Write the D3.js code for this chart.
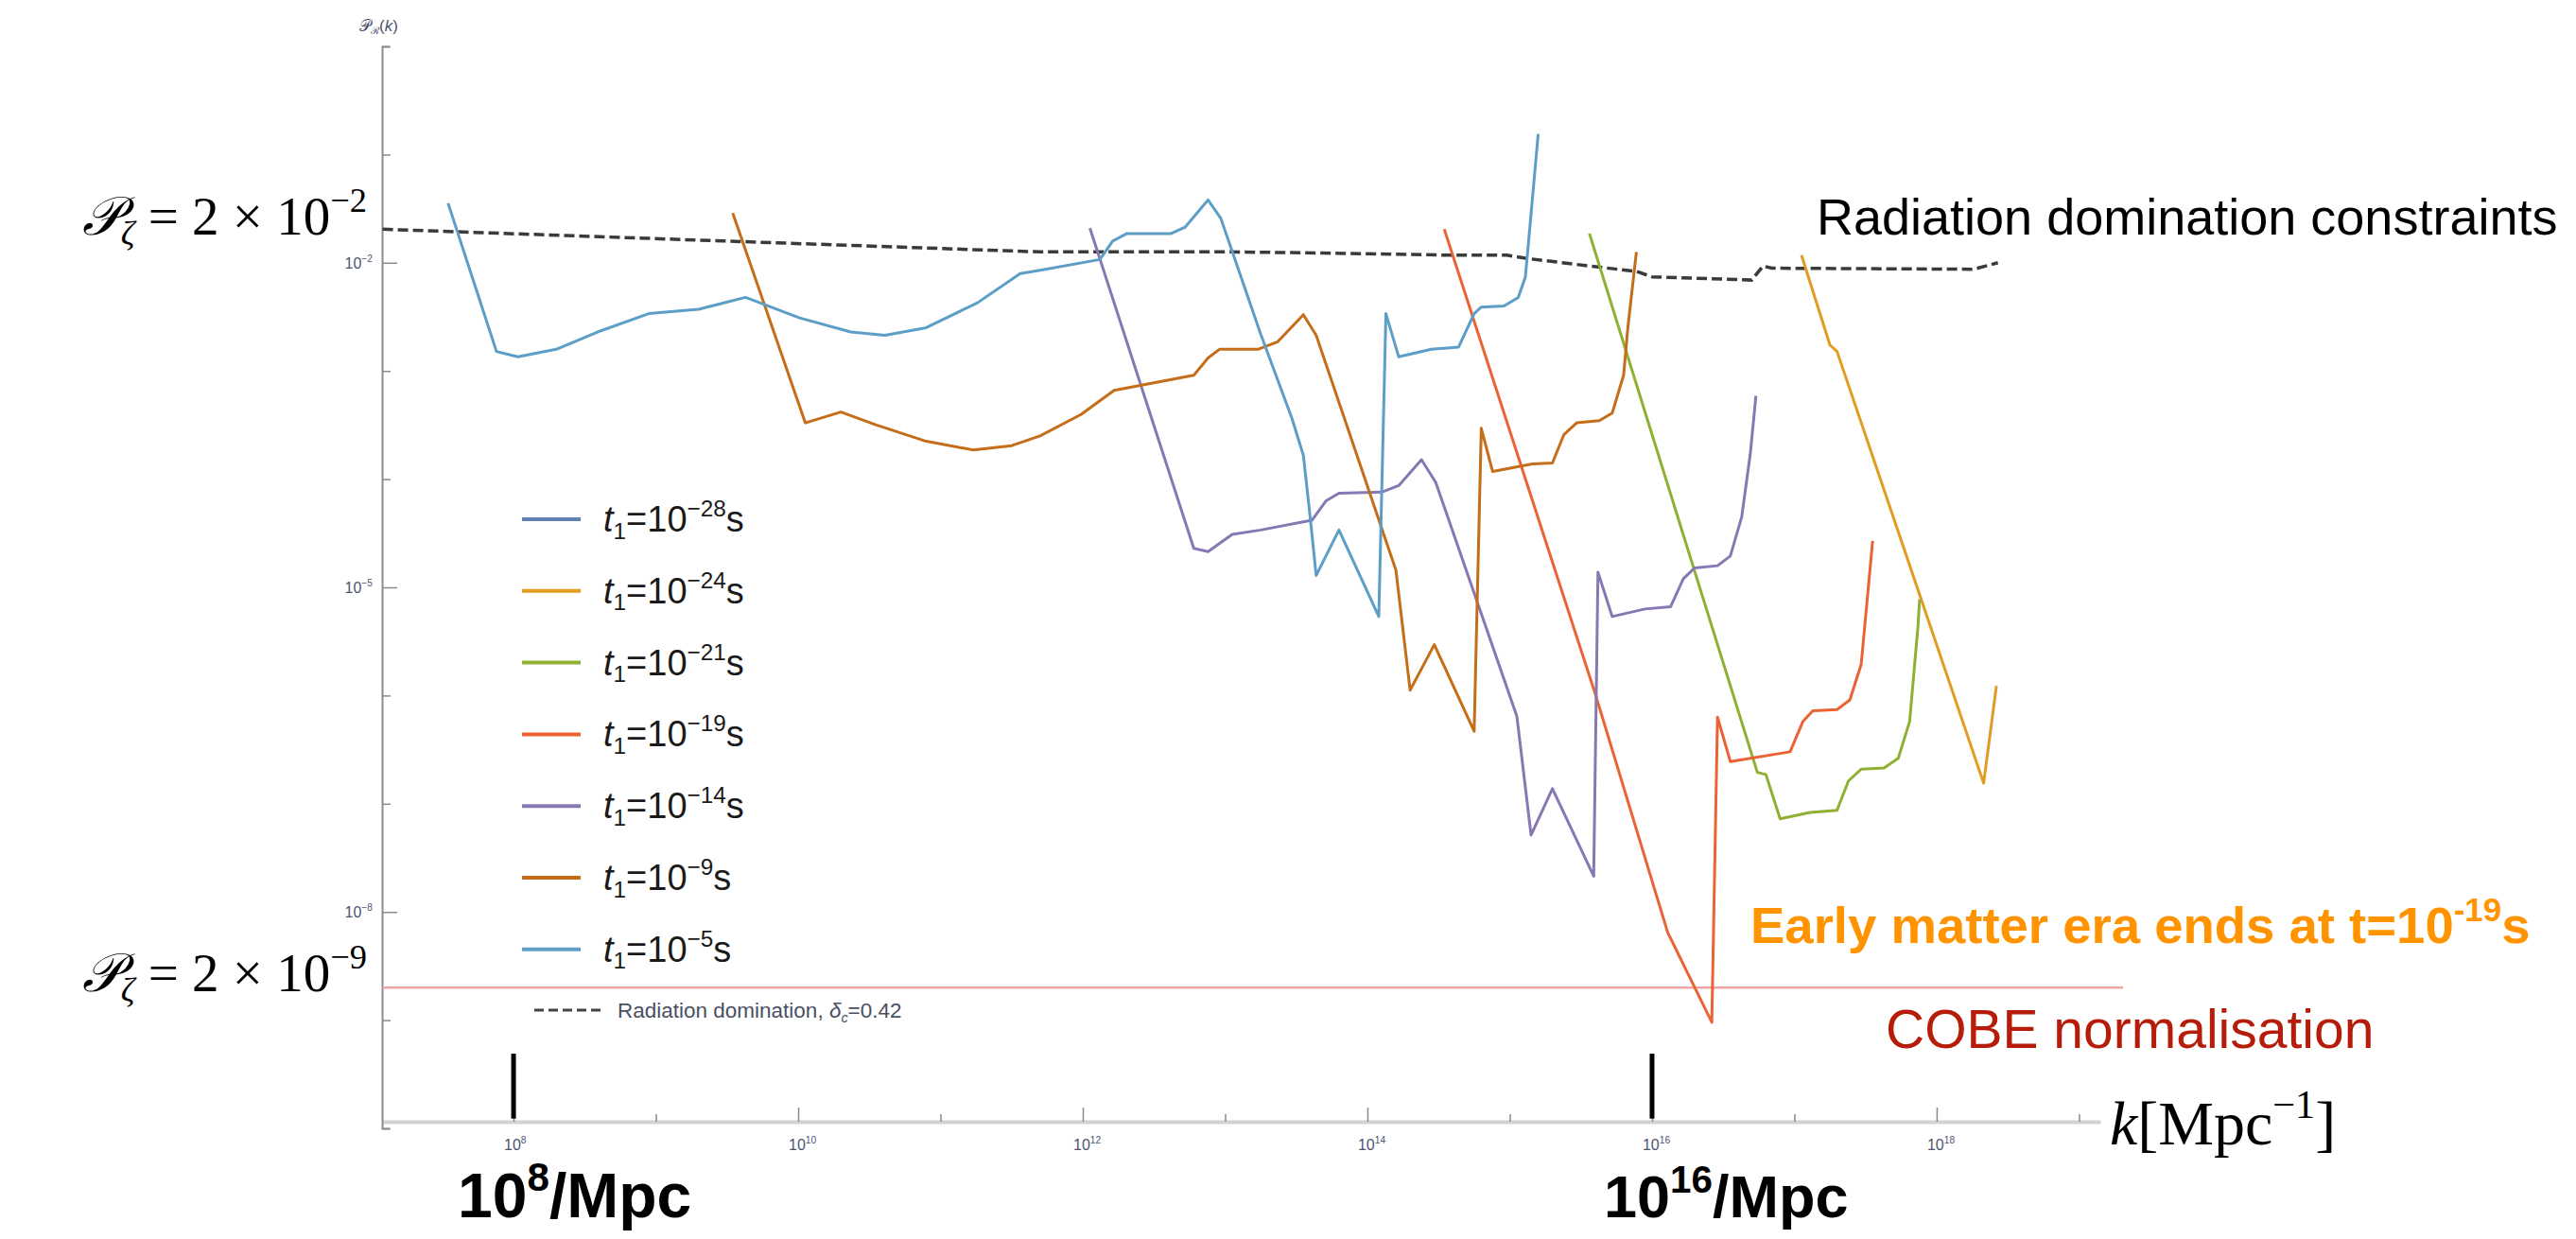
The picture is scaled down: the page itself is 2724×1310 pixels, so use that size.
<!DOCTYPE html>
<html>
<head>
<meta charset="utf-8">
<script src="https://cdn.jsdelivr.net/npm/d3@7"></script>
<style>
  body { margin: 0; background: #fff; }
  svg { display: block; font-family: "Liberation Sans", Arial, sans-serif; }
</style>
</head>
<body>
<svg id="chart"></svg>
<script>
// ---- data: every point is [log10 k, log10 P] ----
const seriesExp = ['−28', '−24', '−21', '−19', '−14', '−9', '−5'];
const seriesColors = ['#5E81B5', '#E19C24', '#8FB032', '#EB6235', '#8778B3', '#C56E1A', '#5D9EC7'];

const t1e28 = [];
const t1e24 = [[17.05,-1.93],[17.25,-2.76],[17.30,-2.82],[18.33,-6.81],[18.42,-5.91]];
const t1e21 = [[15.56,-1.73],[16.74,-6.71],[16.80,-6.73],[16.90,-7.14],[17.11,-7.08],[17.30,-7.06],
  [17.38,-6.79],[17.47,-6.68],[17.63,-6.67],[17.73,-6.58],[17.81,-6.24],[17.87,-5.34],[17.88,-5.11]];
const t1e19 = [[14.54,-1.69],[15.60,-5.98],[16.11,-8.19],[16.42,-9.02],[16.46,-6.20],[16.55,-6.61],
  [16.97,-6.52],[17.06,-6.24],[17.13,-6.14],[17.30,-6.13],[17.39,-6.04],[17.47,-5.71],[17.55,-4.57]];
const t1e14 = [[12.05,-1.68],[12.78,-4.64],[12.88,-4.67],[13.05,-4.51],[13.25,-4.47],[13.61,-4.38],
  [13.71,-4.20],[13.80,-4.13],[14.10,-4.12],[14.22,-4.06],[14.38,-3.82],[14.48,-4.03],[15.05,-6.19],
  [15.15,-7.29],[15.30,-6.86],[15.59,-7.67],[15.62,-4.86],[15.72,-5.27],[15.95,-5.20],[16.13,-5.18],
  [16.22,-4.92],[16.30,-4.82],[16.46,-4.80],[16.55,-4.71],[16.63,-4.35],[16.69,-3.77],[16.73,-3.23]];
const t1e9 = [[9.54,-1.54],[10.05,-3.48],[10.30,-3.38],[10.55,-3.50],[10.90,-3.65],[11.23,-3.73],
  [11.50,-3.69],[11.70,-3.60],[11.99,-3.40],[12.22,-3.18],[12.78,-3.04],[12.88,-2.88],[12.96,-2.80],
  [13.23,-2.80],[13.37,-2.73],[13.55,-2.48],[13.64,-2.67],[14.20,-4.84],[14.30,-5.95],[14.47,-5.53],
  [14.75,-6.33],[14.80,-3.53],[14.88,-3.93],[15.16,-3.86],[15.30,-3.85],[15.38,-3.59],[15.47,-3.48],
  [15.63,-3.46],[15.72,-3.39],[15.80,-3.04],[15.83,-2.60],[15.89,-1.90]];
const t1e5 = [[7.54,-1.45],[7.88,-2.82],[8.03,-2.87],[8.30,-2.80],[8.59,-2.64],[8.95,-2.47],[9.30,-2.43],
  [9.63,-2.32],[10.01,-2.51],[10.37,-2.64],[10.61,-2.67],[10.90,-2.60],[11.26,-2.37],[11.56,-2.10],
  [11.70,-2.07],[12.12,-1.97],[12.21,-1.80],[12.31,-1.73],[12.62,-1.73],[12.72,-1.67],[12.88,-1.42],
  [12.97,-1.59],[13.25,-2.66],[13.47,-3.44],[13.55,-3.78],[13.60,-4.38],[13.64,-4.89],[13.80,-4.47],
  [14.08,-5.27],[14.13,-2.47],[14.22,-2.87],[14.45,-2.80],[14.64,-2.78],[14.75,-2.47],[14.80,-2.41],
  [14.96,-2.40],[15.06,-2.32],[15.11,-2.13],[15.16,-1.40],[15.20,-0.81]];
const allSeries = [t1e28, t1e24, t1e21, t1e19, t1e14, t1e9, t1e5];

const radiationDomination = [[7.08,-1.69],[11.70,-1.90],[13.03,-1.90],[13.69,-1.91],[14.58,-1.93],
  [14.98,-1.93],[15.12,-1.96],[15.56,-2.03],[15.89,-2.08],[16.00,-2.13],[16.70,-2.16],[16.78,-2.03],
  [16.84,-2.05],[18.26,-2.06],[18.43,-2.00]];

const cobeLevel = 2e-9;
const cobeSpan = [7.08, 19.31];
const markerK = [1e8, 1e16];

const xMajorExp = [8, 10, 12, 14, 16, 18];
const xMinorExp = [9, 11, 13, 15, 17, 19];
const yMajorExp = [-2, -5, -8];
const yMinorExp = [0, -1, -3, -4, -6, -7, -9, -10];

// ---- layout ----
const W = 2724, H = 1310;
const svg = d3.select('#chart').attr('width', W).attr('height', H);

const x = d3.scaleLog().domain([10 ** 7.076, 10 ** 19.15]).range([404, 2221]);
const y = d3.scaleLog().domain([1e-10, 1]).range([1193, 49]);
const xAxisY = 1186;

const tickColor = '#8a8a8a';
const tickLabelColor = '#4e5470';

// text with sub/superscripts
function richText(parent, px, py, parts, size) {
  const t = parent.append('text').attr('x', px).attr('y', py).style('font-size', size + 'px');
  let shift = 0;
  parts.forEach(p => {
    const fs = (p.sup || p.sub) ? size * 0.64 : size;
    const target = p.sup ? -size * 0.42 : p.sub ? size * 0.2 : 0;
    t.append('tspan')
      .attr('dy', target - shift)
      .style('font-size', fs + 'px')
      .style('font-style', p.italic ? 'italic' : null)
      .text(p.t);
    shift = target;
  });
  return t;
}

// ---- axes ----
const xMajor = d3.axisBottom(x).tickValues(xMajorExp.map(e => 10 ** e))
  .tickSizeInner(-15).tickSizeOuter(0).tickPadding(14).tickFormat('');
const xMinor = d3.axisBottom(x).tickValues(xMinorExp.map(e => 10 ** e))
  .tickSizeInner(-8).tickSizeOuter(0).tickFormat('');

const xAxisG = svg.append('g').attr('transform', `translate(0,${xAxisY})`).call(xMajor);
xAxisG.select('.domain').attr('stroke', '#d2d2d2').attr('stroke-width', 4);
xAxisG.selectAll('.tick line').attr('stroke', tickColor).attr('stroke-width', 1.5);
svg.append('g').attr('transform', `translate(0,${xAxisY})`).call(xMinor)
  .call(g => g.select('.domain').remove())
  .selectAll('.tick line').attr('stroke', tickColor).attr('stroke-width', 1.5);

xMajorExp.forEach(e => {
  richText(svg, x(10 ** e) - 10, xAxisY + 30, [{t: '10'}, {t: String(e), sup: true}], 16)
    .attr('fill', tickLabelColor);
});

const yMajor = d3.axisLeft(y).tickValues(yMajorExp.map(e => 10 ** e))
  .tickSizeInner(-16).tickSizeOuter(-8).tickFormat('');
const yMinor = d3.axisLeft(y).tickValues(yMinorExp.map(e => 10 ** e))
  .tickSizeInner(-9).tickSizeOuter(0).tickFormat('');

const yAxisG = svg.append('g').attr('transform', 'translate(404,0)').call(yMajor);
yAxisG.select('.domain').attr('stroke', '#8c8c8c').attr('stroke-width', 2).attr('fill', 'none');
yAxisG.selectAll('.tick line').attr('stroke', tickColor).attr('stroke-width', 1.5);
svg.append('g').attr('transform', 'translate(404,0)').call(yMinor)
  .call(g => g.select('.domain').remove())
  .selectAll('.tick line').attr('stroke', tickColor).attr('stroke-width', 1.5);

yMajorExp.forEach(e => {
  richText(svg, 394, y(10 ** e) + 6, [{t: '10'}, {t: '−' + Math.abs(e), sup: true}], 16)
    .attr('fill', tickLabelColor).attr('text-anchor', 'end');
});

// axis label P_R(k)
richText(svg, 380, 33, [{t: '𝒫'}, {t: 'ℛ', sub: true}, {t: '('}, {t: 'k', italic: true}, {t: ')'}], 17)
  .attr('fill', tickLabelColor);

// ---- COBE line ----
svg.append('line')
  .attr('x1', x(10 ** cobeSpan[0])).attr('x2', x(10 ** cobeSpan[1]))
  .attr('y1', y(cobeLevel)).attr('y2', y(cobeLevel))
  .attr('stroke', '#f0a5a5').attr('stroke-width', 2.5);

// ---- curves ----
const line = d3.line()
  .x(d => x(10 ** d[0]))
  .y(d => y(10 ** d[1]));

svg.append('path')
  .datum(radiationDomination)
  .attr('d', line)
  .attr('fill', 'none')
  .attr('stroke', '#3a3a3a')
  .attr('stroke-width', 3.5)
  .attr('stroke-dasharray', '11,5');

svg.selectAll('.series')
  .data(allSeries)
  .join('path')
  .attr('class', 'series')
  .attr('d', d => d.length ? line(d) : null)
  .attr('fill', 'none')
  .attr('stroke', (d, i) => seriesColors[i])
  .attr('stroke-width', 3)
  .attr('stroke-linejoin', 'round');

// ---- legend ----
const legend = svg.append('g');
seriesExp.forEach((e, i) => {
  const cy = 549 + i * 75.8;
  legend.append('line')
    .attr('x1', 552).attr('x2', 614).attr('y1', cy).attr('y2', cy)
    .attr('stroke', seriesColors[i]).attr('stroke-width', 4);
  richText(legend, 638, cy + 13, [
    {t: 't', italic: true}, {t: '1', sub: true}, {t: '=10'}, {t: e, sup: true}, {t: 's'}
  ], 38).attr('fill', '#1a1a1a');
});
legend.append('line')
  .attr('x1', 565).attr('x2', 636).attr('y1', 1068).attr('y2', 1068)
  .attr('stroke', '#444').attr('stroke-width', 3).attr('stroke-dasharray', '10,5');
richText(legend, 653, 1076, [
  {t: 'Radiation domination, '}, {t: 'δ', italic: true}, {t: 'c', sub: true, italic: true}, {t: '=0.42'}
], 22.5).attr('fill', '#4a4f63');

// ---- annotations ----
const serif = '"Liberation Serif", "DejaVu Serif", serif';
richText(svg, 388, 248, [{t: '𝒫', italic: true}, {t: 'ζ', sub: true, italic: true}, {t: ' = 2 × 10'}, {t: '−2', sup: true}], 57)
  .attr('text-anchor', 'end').style('font-family', serif).attr('fill', '#000');
richText(svg, 388, 1048, [{t: '𝒫', italic: true}, {t: 'ζ', sub: true, italic: true}, {t: ' = 2 × 10'}, {t: '−9', sup: true}], 57)
  .attr('text-anchor', 'end').style('font-family', serif).attr('fill', '#000');

svg.append('text').attr('x', 1921).attr('y', 248)
  .style('font-size', '54px').attr('fill', '#000')
  .text('Radiation domination constraints');

richText(svg, 1851, 997, [{t: 'Early matter era ends at t=10'}, {t: '-19', sup: true}, {t: 's'}], 54.5)
  .attr('fill', '#FF9300').style('font-weight', 'bold');

svg.append('text').attr('x', 1994).attr('y', 1108)
  .style('font-size', '57px').attr('fill', '#B51C0A')
  .text('COBE normalisation');

richText(svg, 2231, 1210, [{t: 'k', italic: true}, {t: '[Mpc'}, {t: '−1', sup: true}, {t: ']'}], 66)
  .style('font-family', serif).attr('fill', '#000');

richText(svg, 484, 1287, [{t: '10'}, {t: '8', sup: true}, {t: '/Mpc'}], 66)
  .style('font-weight', 'bold').attr('fill', '#000');
richText(svg, 1696, 1287, [{t: '10'}, {t: '16', sup: true}, {t: '/Mpc'}], 63)
  .style('font-weight', 'bold').attr('fill', '#000');

svg.selectAll('.marker')
  .data(markerK)
  .join('line')
  .attr('class', 'marker')
  .attr('x1', d => x(d)).attr('x2', d => x(d))
  .attr('y1', y(10 ** -9.31)).attr('y2', y(10 ** -9.91))
  .attr('stroke', '#000').attr('stroke-width', 5);
</script>
</body>
</html>
